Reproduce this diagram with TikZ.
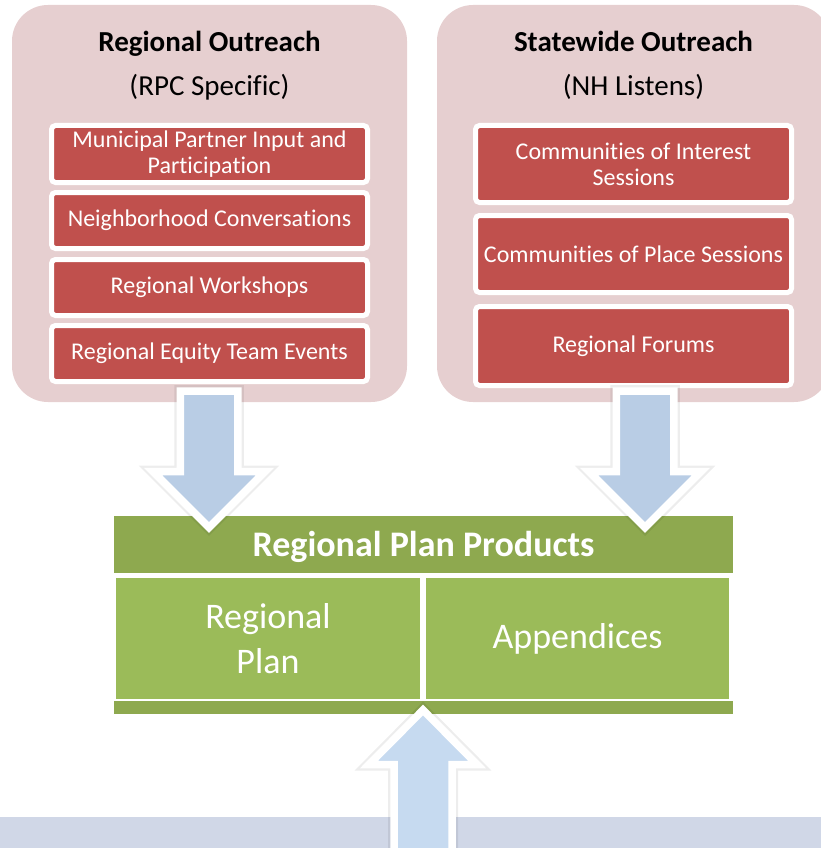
\documentclass[tikz,border=0pt]{standalone}
\usepackage{fontspec}
\setmainfont{Carlito}[Ligatures=NoCommon]
\usepackage{xcolor}
\usepackage{tikz}

\definecolor{outpink}{RGB}{230,207,208}
\definecolor{boxred}{RGB}{192,80,77}
\definecolor{barolive}{RGB}{142,169,79}
\definecolor{cellolive}{RGB}{155,187,89}
\definecolor{arrblue}{RGB}{185,205,229}
\definecolor{uparrblue}{RGB}{198,218,240}
\definecolor{bandblue}{RGB}{208,215,231}

\begin{document}
\begin{tikzpicture}[x=1pt,y=-1pt,
	outbox/.style={rectangle,rounded corners=36pt,fill=outpink,minimum height=397pt},
	redbox/.style={rectangle,rounded corners=4pt,fill=boxred,draw=white,line width=5pt,text=white,align=center,minimum width=316pt,font=\fontsize{24}{26}\selectfont},
	headtext/.style={anchor=base,font=\fontsize{29}{34}\selectfont\bfseries},
	subtext/.style={anchor=base,font=\fontsize{29}{34}\selectfont},
	cell/.style={rectangle,fill=cellolive,text=white,align=center,minimum height=121pt,font=\fontsize{36}{45}\selectfont},
	blockarrow/.style={draw=white,line width=7.5pt,line join=miter,preaction={draw=black,draw opacity=.07,line width=12pt,line join=miter}}]
	\useasboundingbox (0,0) rectangle (821,848);
	% outreach boxes
	\node[outbox,minimum width=395pt] (regBox) at (209.5,203.5) {};
	\node[outbox,minimum width=393pt] (stateBox) at (633.5,203.5) {};
	\node[headtext] (regTitle) at (209.5,52) {Regional Outreach};
	\node[subtext] (regSub) at (209.5,96) {(RPC Specific)};
	\node[headtext] (stateTitle) at (633.5,52) {Statewide Outreach};
	\node[subtext] (stateSub) at (633.5,96) {(NH Listens)};
	\node[redbox,minimum height=57pt] (muni) at (209.5,154) {Municipal Partner Input and\\Participation};
	\node[redbox,minimum height=56pt] (neigh) at (209.5,220.5) {Neighborhood Conversations};
	\node[redbox,minimum height=56pt] (work) at (209.5,287.5) {Regional Workshops};
	\node[redbox,minimum height=56pt] (equity) at (209.5,353.5) {Regional Equity Team Events};
	\node[redbox,minimum height=77pt] (interest) at (633.5,164) {Communities of Interest\\Sessions};
	\node[redbox,minimum height=77pt] (place) at (633.5,254) {Communities of Place Sessions};
	\node[redbox,minimum height=79pt] (forums) at (633.5,346) {Regional Forums};
	% products
	\node[rectangle,fill=barolive,text=white,minimum width=619pt,minimum height=57pt,text height=27pt,text depth=4pt,font=\fontsize{36}{40}\selectfont\bfseries] (prodBar) at (423.5,544.5) {Regional Plan Products};
	\node[cell,minimum width=304pt] (planCell) at (268,638.5) {Regional\\Plan};
	\node[cell,minimum width=303pt] (appCell) at (577.5,638.5) {Appendices};
	\fill[barolive] (114,701) rectangle (733,714);
	\fill[bandblue] (0,817) rectangle (821,860);
	% arrows
	\foreach \cx in {209,645}
		\draw[blockarrow,fill=arrblue] ({\cx-28.75},391) -- ({\cx+28.75},391) -- ({\cx+28.75},471.5) -- ({\cx+56},471.5) -- (\cx,527.5) -- ({\cx-56},471.5) -- ({\cx-28.75},471.5) -- cycle;
	\draw[blockarrow,fill=uparrblue] (394,870) -- (452,870) -- (452,764.5) -- (477,764.5) -- (423,710) -- (369,764.5) -- (394,764.5) -- cycle;
\end{tikzpicture}
\end{document}
